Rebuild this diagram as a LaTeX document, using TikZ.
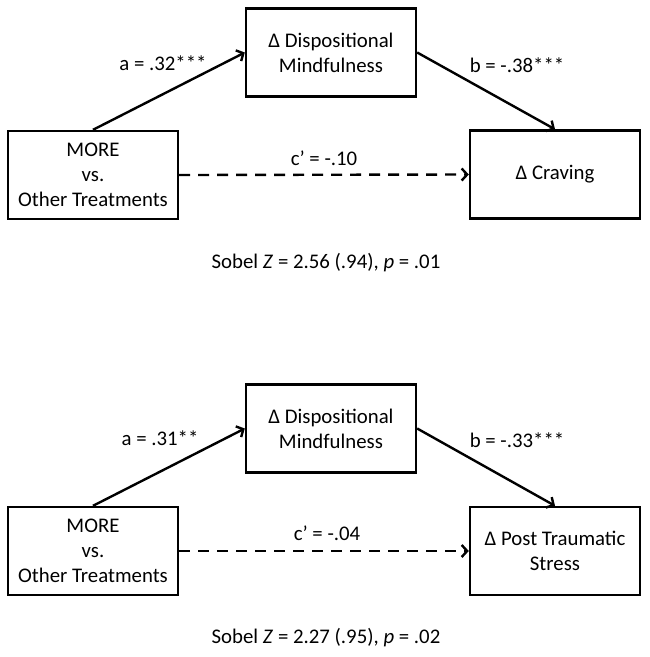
\documentclass[tikz,border=0pt]{standalone}
\usepackage{fontspec}
\setmainfont{Carlito}
\usetikzlibrary{arrows.meta}

\begin{document}
\begin{tikzpicture}[x=1pt,y=-1pt,line width=2.4pt,>={Straight Barb[length=5.5pt,width=12pt]},font=\fontsize{20.8}{25}\selectfont,
		var/.style={draw,line width=2.4pt,minimum width=170pt,minimum height=88pt,align=center,inner sep=0pt},
		link/.style={->},
		direct/.style={->,dash pattern=on 11pt off 8pt}]
				\useasboundingbox (0,0) rectangle (649,657);
				% craving model
				\node[var] (med1) at (331,52.5) {Δ Dispositional\\Mindfulness};
				\node[var] (more1) at (93,175) {MORE\\vs.\\Other Treatments};
				\node[var] (crav) at (555,174.5) {Δ Craving};
				\draw[link] (more1.north) -- (med1.west);
				\draw[link] (med1.east) -- (crav.north);
				\draw[direct] (more1.east) -- (crav.west);
				\node (a1) at (163,63) {a = .32***};
				\node (b1) at (517,65) {b = -.38***};
				\node (c1) at (324,158) {c’ = -.10};
				\node (sobel1) at (326,263) {Sobel \textit{Z} = 2.56 (.94), \textit{p} = .01};
				% post traumatic stress model
				\node[var] (med2) at (331,428.5) {Δ Dispositional\\Mindfulness};
				\node[var] (more2) at (93,551) {MORE\\vs.\\Other Treatments};
				\node[var] (pts) at (555,551) {Δ Post Traumatic\\Stress};
				\draw[link] (more2.north) -- (med2.west);
				\draw[link] (med2.east) -- (pts.north);
				\draw[direct] (more2.east) -- (pts.west);
				\node (a2) at (160,438) {a = .31**};
				\node (b2) at (517,440) {b = -.33***};
				\node (c2) at (327,533) {c’ = -.04};
				\node (sobel2) at (326,638) {Sobel \textit{Z} = 2.27 (.95), \textit{p} = .02};
			\end{tikzpicture}
\end{document}
